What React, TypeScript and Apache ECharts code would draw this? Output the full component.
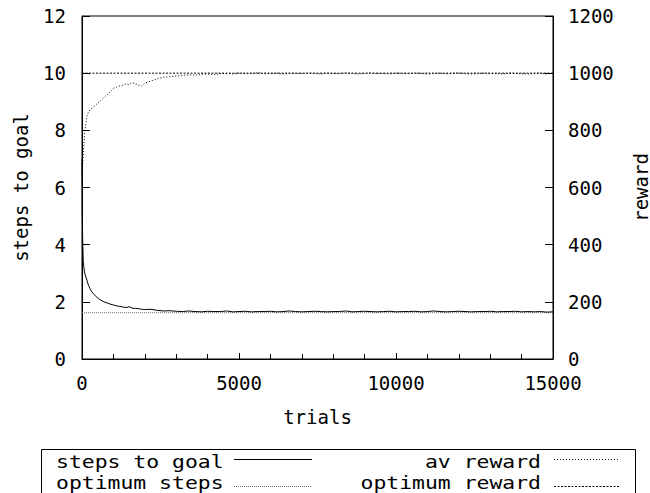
import React, { useEffect, useRef } from "react";
import * as echarts from "echarts";

// trials (x) shared by the measured series
const trials = [
  0, 10, 20, 40, 60, 80, 100, 130, 160, 200, 250, 300, 350, 400, 500, 600, 700, 800, 900, 1000,
  1100, 1200, 1300, 1400, 1500, 1600, 1700, 1800, 1900,
  2000, 2200, 2400, 2600, 2800,
  3000, 3200, 3400, 3600, 3800, 4000, 4200, 4400, 4600, 4800,
  5000, 5200, 5400, 5600, 5800, 6000, 6200, 6400, 6600, 6800,
  7000, 7200, 7400, 7600, 7800, 8000, 8200, 8400, 8600, 8800,
  9000, 9200, 9400, 9600, 9800, 10000, 10200, 10400, 10600, 10800,
  11000, 11200, 11400, 11600, 11800, 12000, 12200, 12400, 12600, 12800,
  13000, 13200, 13400, 13600, 13800, 14000, 14200, 14400, 14600, 14800, 15000,
];

const stepsToGoal = [
  7.0, 5.2, 4.2, 3.4, 3.2, 3.05, 2.95, 2.85, 2.75, 2.6, 2.47, 2.37, 2.3, 2.24, 2.13, 2.06, 2.0, 1.96, 1.92, 1.89,
  1.86, 1.84, 1.82, 1.8, 1.83, 1.78, 1.77, 1.76, 1.74,
  1.73, 1.74, 1.7, 1.68, 1.69,
  1.67, 1.66, 1.68, 1.66, 1.65, 1.67, 1.66, 1.66, 1.68, 1.65,
  1.66, 1.67, 1.65, 1.66, 1.66, 1.67, 1.65, 1.66, 1.68, 1.66,
  1.65, 1.66, 1.67, 1.66, 1.65, 1.66, 1.66, 1.68, 1.65, 1.66,
  1.67, 1.66, 1.65, 1.66, 1.67, 1.65, 1.66, 1.66, 1.67, 1.65,
  1.66, 1.68, 1.66, 1.65, 1.66, 1.67, 1.66, 1.65, 1.66, 1.66,
  1.67, 1.65, 1.66, 1.66, 1.67, 1.65, 1.66, 1.65, 1.66, 1.64, 1.65,
];

const avReward = [
  640, 660, 680, 710, 750, 780, 805, 830, 850, 862, 872, 876, 880, 885, 895, 905, 915, 925, 935, 947,
  951, 955, 958, 962, 960, 967, 963, 958, 955,
  965, 973, 980, 986, 988,
  990, 992, 994, 993, 996, 997, 995, 998, 999, 997,
  1000, 998, 999, 1001, 998, 999, 1000, 997, 999, 1000,
  998, 1000, 999, 997, 1000, 999, 998, 1001, 999, 997,
  999, 1000, 998, 999, 997, 1000, 999, 998, 1000, 999,
  997, 999, 1000, 998, 999, 1001, 998, 997, 999, 1000,
  998, 999, 997, 1000, 999, 998, 997, 999, 1000, 998, 999,
];

const optimumStepsTrials = [0, 15000];
const optimumSteps = [1.62, 1.62];
const optimumRewardTrials = [0, 15000];
const optimumReward = [1000, 1000];

const legendLabels = ["steps to goal", "optimum steps", "av reward", "optimum reward"];

const FONT = "DejaVu Sans Mono";

export default function App() {
  const ref = useRef<HTMLDivElement>(null);

  useEffect(() => {
    document.body.style.margin = "0";
    const chart = echarts.init(ref.current!, null, { renderer: "svg" });

    const axisText = { fontFamily: FONT, fontSize: 19, color: "#000" };
    const solid = { color: "#000", width: 1, type: "solid" as const };
    const dotStyle = [1, 2];
    const dashStyle = [2, 1.5];
    const fineDot = [1, 1];
    const plain = (v: number) => String(v);

    const legendFont = `17px "${FONT}"`;
    const legendScale = 1.26;

    chart.setOption({
      animation: false,
      backgroundColor: "#fff",
      grid: {
        left: 82,
        right: 97,
        top: 16,
        bottom: 134,
        show: true,
        borderColor: "#000",
        borderWidth: 1,
        backgroundColor: "transparent",
        outerBoundsMode: "none",
        containLabel: false,
      },
      xAxis: {
        type: "value",
        min: 0,
        max: 15000,
        interval: 5000,
        name: "trials",
        nameLocation: "middle",
        nameGap: 48,
        nameMoveOverlap: false,
        nameTextStyle: axisText,
        axisLine: { show: true, lineStyle: solid },
        axisTick: { show: true, inside: true, length: 6, lineStyle: solid },
        minorTick: { show: true, splitNumber: 5, length: 5, lineStyle: solid },
        axisLabel: { ...axisText, margin: 14, formatter: plain, showMinLabel: true, showMaxLabel: true, hideOverlap: false },
        splitLine: { show: false },
      },
      yAxis: [
        {
          type: "value",
          min: 0,
          max: 12,
          interval: 2,
          position: "left",
          name: "steps to goal",
          nameLocation: "middle",
          nameRotate: 90,
          nameGap: 52,
          nameMoveOverlap: false,
          nameTextStyle: axisText,
          axisLine: { show: true, lineStyle: solid },
          axisTick: { show: true, inside: true, length: 8, lineStyle: solid },
          axisLabel: { ...axisText, margin: 16, formatter: plain },
          splitLine: { show: false },
        },
        {
          type: "value",
          min: 0,
          max: 1200,
          interval: 200,
          position: "right",
          name: "reward",
          nameLocation: "middle",
          nameRotate: 90,
          nameGap: 78,
          nameMoveOverlap: false,
          nameTextStyle: axisText,
          axisLine: { show: true, lineStyle: solid },
          axisTick: { show: true, inside: true, length: 8, lineStyle: solid },
          axisLabel: { ...axisText, margin: 15, formatter: plain },
          splitLine: { show: false },
        },
      ],
      series: [
        {
          name: legendLabels[0],
          type: "line",
          yAxisIndex: 0,
          symbol: "none",
          lineStyle: { color: "#000", width: 1 },
          data: trials.map((t, i) => [t, stepsToGoal[i]]),
          z: 4,
        },
        {
          name: legendLabels[1],
          type: "line",
          yAxisIndex: 0,
          symbol: "none",
          lineStyle: { color: "#666", width: 1, type: fineDot },
          data: optimumStepsTrials.map((t, i) => [t, optimumSteps[i]]),
          z: 3,
        },
        {
          name: legendLabels[2],
          type: "line",
          yAxisIndex: 1,
          symbol: "none",
          lineStyle: { color: "#000", width: 1, type: dotStyle },
          data: trials.map((t, i) => [t, avReward[i]]),
          z: 3,
        },
        {
          name: legendLabels[3],
          type: "line",
          yAxisIndex: 1,
          symbol: "none",
          lineStyle: { color: "#000", width: 1, type: dashStyle },
          data: optimumRewardTrials.map((t, i) => [t, optimumReward[i]]),
          z: 3,
        },
      ],
      graphic: [
        {
          type: "rect",
          shape: { x: 41.5, y: 449.5, width: 594, height: 70 },
          style: { fill: "none", stroke: "#000", lineWidth: 1 },
          silent: true,
        },
        {
          type: "text",
          x: 56,
          y: 462,
          scaleX: legendScale,
          style: { text: legendLabels[0], font: legendFont, fill: "#000", textAlign: "left", textVerticalAlign: "middle" },
        },
        {
          type: "text",
          x: 56,
          y: 483,
          scaleX: legendScale,
          style: { text: legendLabels[1], font: legendFont, fill: "#000", textAlign: "left", textVerticalAlign: "middle" },
        },
        {
          type: "text",
          x: 541,
          y: 462,
          scaleX: legendScale,
          style: { text: legendLabels[2], font: legendFont, fill: "#000", textAlign: "right", textVerticalAlign: "middle" },
        },
        {
          type: "text",
          x: 541,
          y: 483,
          scaleX: legendScale,
          style: { text: legendLabels[3], font: legendFont, fill: "#000", textAlign: "right", textVerticalAlign: "middle" },
        },
        {
          type: "line",
          shape: { x1: 234, y1: 459.5, x2: 312, y2: 459.5 },
          style: { stroke: "#000", lineWidth: 1 },
        },
        {
          type: "line",
          shape: { x1: 234, y1: 486.5, x2: 312, y2: 486.5 },
          style: { stroke: "#666", lineWidth: 1, lineDash: fineDot },
        },
        {
          type: "line",
          shape: { x1: 554, y1: 459.5, x2: 620, y2: 459.5 },
          style: { stroke: "#000", lineWidth: 1, lineDash: dotStyle },
        },
        {
          type: "line",
          shape: { x1: 554, y1: 486.5, x2: 620, y2: 486.5 },
          style: { stroke: "#000", lineWidth: 1, lineDash: dashStyle },
        },
      ],
    });

    return () => chart.dispose();
  }, []);

  return <div ref={ref} style={{ width: 650, height: 493 }} />;
}
